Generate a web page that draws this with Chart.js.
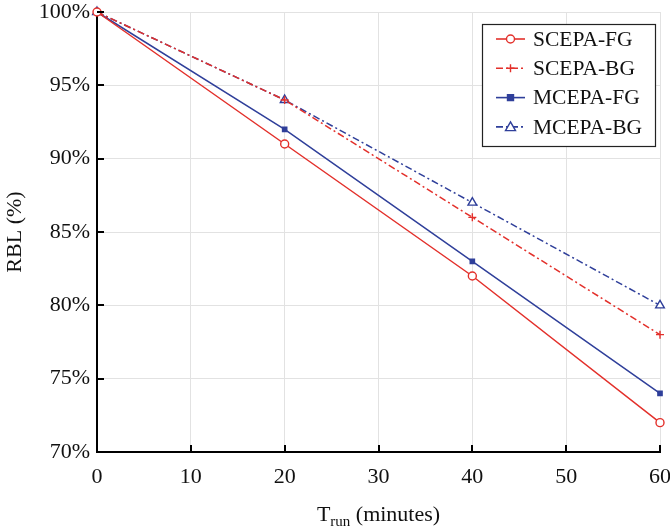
<!DOCTYPE html>
<html>
<head>
<meta charset="utf-8">
<script src="https://cdn.jsdelivr.net/npm/chart.js@4.4.0/dist/chart.umd.min.js"></script>
<style>
  html, body { margin: 0; padding: 0; background: #fff; }
  #wrap { width: 670px; height: 529px; }
</style>
</head>
<body>
<div id="wrap"><canvas id="rbl" width="670" height="529"></canvas></div>
<script>
// data
const runTimes = [0, 20, 40, 60];
const scepaFG = [100, 91, 82, 72];
const scepaBG = [100, 94, 86, 78];
const mcepaFG = [100, 92, 83, 74];
const mcepaBG = [100, 94, 87, 80];
const seriesNames = ['SCEPA-FG', 'SCEPA-BG', 'MCEPA-FG', 'MCEPA-BG'];
const xTicks = [0, 10, 20, 30, 40, 50, 60];
const yTicks = [70, 75, 80, 85, 90, 95, 100];

const RED = '#e3302b';
const BLUE = '#2f3f9a';
const FONT = "'Liberation Serif', 'Times New Roman', serif";
const dashDot = [7, 3, 2, 3];

const toPts = vals => vals.map((v, i) => ({ x: runTimes[i], y: v }));

const styles = [
  { color: RED, dash: [], marker: 'circle', r: 4, fill: '#fff' },
  { color: RED, dash: dashDot, marker: 'cross', r: 4, fill: RED },
  { color: BLUE, dash: [], marker: 'rect', r: 3, fill: BLUE },
  { color: BLUE, dash: dashDot, marker: 'triangle', r: 5, fill: '#fff' }
];
const allSeries = [scepaFG, scepaBG, mcepaFG, mcepaBG];

const datasets = allSeries.map((vals, i) => ({
  label: seriesNames[i],
  data: toPts(vals),
  borderColor: styles[i].color,
  borderWidth: 1.5,
  borderDash: styles[i].dash,
  pointStyle: styles[i].marker,
  pointRadius: styles[i].r,
  pointBorderWidth: 1.4,
  pointBorderColor: styles[i].color,
  pointBackgroundColor: styles[i].fill,
  clip: false,
  tension: 0
}));

function drawMarker(ctx, s, x, y) {
  ctx.save();
  ctx.setLineDash([]);
  ctx.strokeStyle = s.color;
  ctx.fillStyle = s.fill;
  ctx.lineWidth = 1.4;
  const r = s.r;
  ctx.beginPath();
  if (s.marker === 'circle') {
    ctx.arc(x, y, r, 0, Math.PI * 2);
    ctx.fill(); ctx.stroke();
  } else if (s.marker === 'cross') {
    ctx.moveTo(x - r, y); ctx.lineTo(x + r, y);
    ctx.moveTo(x, y - r); ctx.lineTo(x, y + r);
    ctx.stroke();
  } else if (s.marker === 'rect') {
    ctx.rect(x - r, y - r, 2 * r, 2 * r);
    ctx.fill(); ctx.stroke();
  } else if (s.marker === 'triangle') {
    ctx.moveTo(x, y - r);
    ctx.lineTo(x + r, y + r * 0.75);
    ctx.lineTo(x - r, y + r * 0.75);
    ctx.closePath();
    ctx.fill(); ctx.stroke();
  }
  ctx.restore();
}

const extras = {
  id: 'extras',
  afterDraw(chart) {
    const ctx = chart.ctx;
    const xs = chart.scales.x, ys = chart.scales.y;
    const area = chart.chartArea;

    // inward ticks
    ctx.save();
    ctx.strokeStyle = '#000';
    ctx.lineWidth = 2;
    ctx.beginPath();
    xTicks.forEach(v => {
      const px = Math.round(xs.getPixelForValue(v));
      ctx.moveTo(px, area.bottom);
      ctx.lineTo(px, area.bottom - 7);
    });
    yTicks.forEach(v => {
      const py = Math.round(ys.getPixelForValue(v));
      ctx.moveTo(area.left, py);
      ctx.lineTo(area.left + 7, py);
    });
    ctx.stroke();

    // x title with subscript
    ctx.fillStyle = '#111';
    ctx.textBaseline = 'alphabetic';
    ctx.textAlign = 'left';
    const big = '22px ' + FONT, small = '15px ' + FONT;
    ctx.font = big;
    const wT = ctx.measureText('T').width;
    const wRest = ctx.measureText(' (minutes)').width;
    ctx.font = small;
    const wSub = ctx.measureText('run').width;
    const total = wT + wSub + wRest;
    let cx = (area.left + area.right) / 2 - total / 2;
    const base = 521;
    ctx.font = big;
    ctx.fillText('T', cx, base);
    cx += wT;
    ctx.font = small;
    ctx.fillText('run', cx, base + 5);
    cx += wSub;
    ctx.font = big;
    ctx.fillText(' (minutes)', cx, base);

    // y title
    ctx.save();
    ctx.translate(15, (area.top + area.bottom) / 2);
    ctx.rotate(-Math.PI / 2);
    ctx.textAlign = 'center';
    ctx.textBaseline = 'middle';
    ctx.font = big;
    ctx.fillText('RBL (%)', 0, 0);
    ctx.restore();

    // legend
    const lx = 482, ly = 24, lw = 173, lh = 122;
    ctx.fillStyle = '#fff';
    ctx.fillRect(lx, ly, lw, lh);
    ctx.strokeStyle = '#222';
    ctx.lineWidth = 1.2;
    ctx.strokeRect(lx + 0.5, ly + 0.5, lw, lh);
    seriesNames.forEach((name, i) => {
      const s = styles[i];
      const y = 39 + i * 29.3;
      ctx.save();
      ctx.strokeStyle = s.color;
      ctx.lineWidth = 1.6;
      ctx.setLineDash(s.dash);
      ctx.beginPath();
      ctx.moveTo(496, y);
      ctx.lineTo(525, y);
      ctx.stroke();
      ctx.restore();
      drawMarker(ctx, s, 510.5, y);
      ctx.fillStyle = '#111';
      ctx.font = '21.5px ' + FONT;
      ctx.textAlign = 'left';
      ctx.textBaseline = 'middle';
      ctx.fillText(name, 533, y + 1);
    });
    ctx.restore();
  }
};

new Chart(document.getElementById('rbl'), {
  type: 'line',
  data: { datasets },
  plugins: [extras],
  options: {
    responsive: false,
    animation: false,
    layout: { padding: { left: 0, right: 10, top: 12, bottom: 0 } },
    plugins: { legend: { display: false }, tooltip: { enabled: false } },
    scales: {
      x: {
        type: 'linear',
        min: 0, max: 60,
        afterBuildTicks: s => { s.ticks = xTicks.map(v => ({ value: v })); },
        afterFit: s => { s.height = 77; s.paddingLeft = 0; s.paddingRight = 0; },
        grid: { color: '#e2e2e2', lineWidth: 1, drawTicks: false },
        border: { display: true, color: '#000', width: 2 },
        ticks: { color: '#111', font: { family: FONT, size: 22 }, padding: 12, maxRotation: 0 }
      },
      y: {
        min: 70, max: 100,
        afterBuildTicks: s => { s.ticks = yTicks.map(v => ({ value: v })); },
        afterFit: s => { s.width = 97; s.paddingTop = 0; s.paddingBottom = 0; },
        grid: { color: '#e2e2e2', lineWidth: 1, drawTicks: false },
        border: { display: true, color: '#000', width: 2 },
        ticks: { color: '#111', font: { family: FONT, size: 22 }, padding: 7, callback: v => v + '%' }
      }
    }
  }
});
</script>
</body>
</html>
